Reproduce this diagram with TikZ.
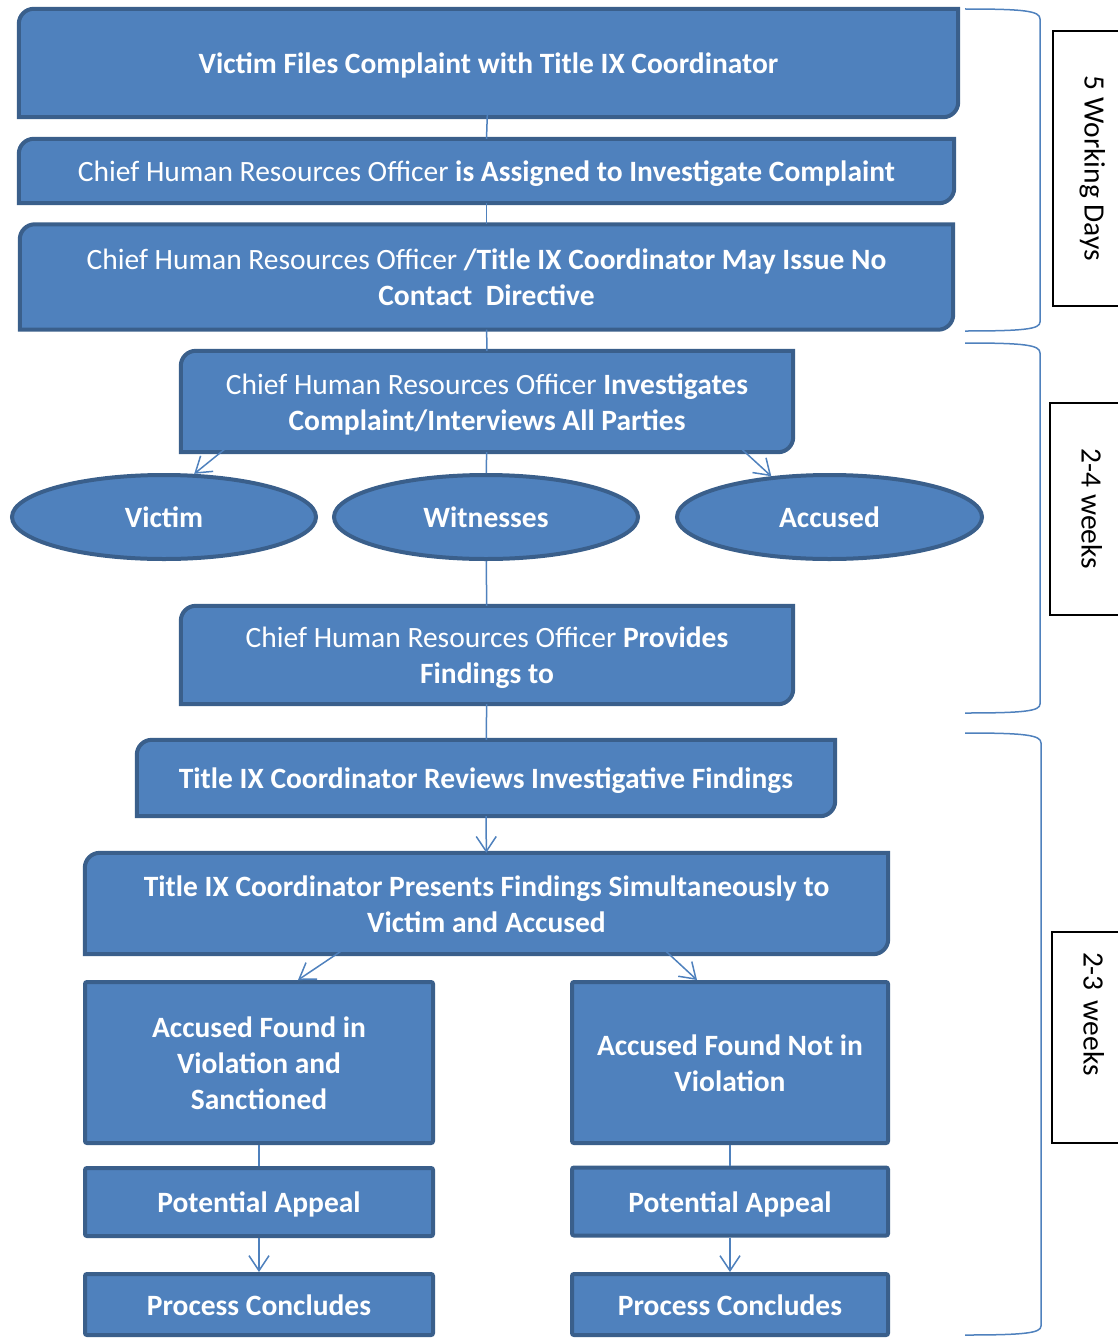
\documentclass[tikz,border=0pt]{standalone}
\usepackage{fontspec}
\setmainfont{Carlito}
\usetikzlibrary{arrows.meta,shapes.geometric,backgrounds}
\definecolor{boxfill}{HTML}{4F81BD}
\definecolor{boxline}{HTML}{3A5F8B}
% line box of one text line, as the word processor sets it
\newcommand{\wstrut}{\rule[-7.5pt]{0pt}{36pt}}
\tikzset{
  txt/.style={text=white, align=center, inner sep=0pt, font=\fontsize{29.5}{36}\selectfont\bfseries},
  boxshape/.style={fill=boxfill, draw=boxline, line width=4pt},
  plainbox/.style={txt, boxshape, rounded corners=2pt},
  oval/.style={txt, boxshape, ellipse},
  link/.style={draw=boxfill, line width=1.5pt},
  arr/.style={link, -{Straight Barb[length=15pt,width=20pt]}},
  brk/.style={draw=boxfill, line width=1.5pt},
  lbl/.style={draw=black, line width=1.2pt, rotate=-90, inner sep=0pt, text height=22pt, text depth=13pt, font=\fontsize{29.5}{36}\selectfont}
}
\begin{document}
\begin{tikzpicture}[x=1pt,y=-1pt]
\useasboundingbox (0,0) rectangle (1117,1338);

% main column
\node[txt, minimum width=939pt, minimum height=108pt] (b1) at (488.5,63) {\wstrut Victim Files Complaint with Title IX Coordinator};
\node[txt, minimum width=935pt, minimum height=64pt] (b2) at (486.5,171) {\wstrut{\mdseries Chief Human Resources Officer} is Assigned to Investigate Complaint};
\node[txt, minimum width=933pt, minimum height=105pt] (b3) at (486.5,277) {\wstrut{\mdseries Chief Human Resources Officer} /Title IX Coordinator May Issue No\\\wstrut Contact~ Directive};
\node[txt, minimum width=612pt, minimum height=101pt] (b4) at (487,401.5) {\wstrut{\mdseries Chief Human Resources Officer} Investigates\\\wstrut Complaint/Interviews All Parties};

\node[oval, minimum width=304pt, minimum height=84pt] (victim) at (164,517) {\wstrut Victim};
\node[oval, minimum width=304pt, minimum height=84pt] (witnesses) at (486,517) {\wstrut Witnesses};
\node[oval, minimum width=305pt, minimum height=84pt] (accused) at (829.5,517) {\wstrut Accused};

\node[txt, minimum width=612pt, minimum height=98pt] (b5) at (487,655) {\wstrut{\mdseries Chief Human Resources Officer} Provides\\\wstrut Findings to};
\node[txt, minimum width=698pt, minimum height=76pt] (b6) at (486,778) {\wstrut Title IX Coordinator Reviews Investigative Findings};
\node[txt, minimum width=803pt, minimum height=101pt] (b7) at (486.5,903.5) {\wstrut Title IX Coordinator Presents Findings Simultaneously to\\\wstrut Victim and Accused};

% outcomes
\node[plainbox, minimum width=348pt, minimum height=161pt] (l8) at (259,1062.5) {\wstrut Accused Found in\\\wstrut Violation and\\\wstrut Sanctioned};
\node[plainbox, minimum width=316pt, minimum height=161pt] (r8) at (730,1062.5) {\wstrut Accused Found Not in\\\wstrut Violation};
\node[plainbox, minimum width=348pt, minimum height=68pt] (l9) at (259,1202) {\wstrut Potential Appeal};
\node[plainbox, minimum width=316pt, minimum height=68pt] (r9) at (730,1201.5) {\wstrut Potential Appeal};
\node[plainbox, minimum width=348pt, minimum height=61pt] (l10) at (259,1304.5) {\wstrut Process Concludes};
\node[plainbox, minimum width=316pt, minimum height=61pt] (r10) at (730,1304.5) {\wstrut Process Concludes};

\begin{scope}[on background layer]
\foreach \n in {b1,b2,b3,b4,b5,b6,b7}
  \filldraw[boxshape] ([yshift=-15pt]\n.north west) arc[start angle=180,end angle=90,radius=15pt]
    -- (\n.north east) -- ([yshift=15pt]\n.south east) arc[start angle=0,end angle=-90,radius=15pt]
    -- (\n.south west) -- cycle;
\end{scope}

% connectors
\draw[link] ([yshift=-16pt]b1.center) -- (b2.north);
\draw[link] (b2) -- (b3);
\draw[link] (b3) -- (b4);
\draw[link] (b4) -- (witnesses);
\draw[arr] ([shift={(76,-29)}]b4.south west) -- (victim.55);
\draw[arr] ([shift={(-83,-32)}]b4.south east) -- (accused.145);
\draw[link] (witnesses) -- (b5);
\draw[link] (b5) -- (b6);
\draw[arr] (b6) -- (b7);
\draw[arr] ([shift={(280,-19)}]b7.south west) -- ([xshift=39pt]l8.north);
\draw[arr] ([shift={(-245,-24)}]b7.south east) -- ([xshift=-33pt]r8.north);
\draw[link] (l8) -- (l9);
\draw[link] (r8) -- (r9);
\draw[arr] (l9) -- (l10);
\draw[arr] (r9) -- (r10);

% time brackets
\draw[brk] (965,9) .. controls (1025,9) and (1040,11) .. (1040,19) -- (1040,322) .. controls (1040,329) and (1025,331) .. (965,331);
\draw[brk] (965,343) .. controls (1025,343) and (1040,345) .. (1040,353) -- (1040,704) .. controls (1040,711) and (1025,713) .. (965,713);
\draw[brk] (965,733) .. controls (1025,733) and (1041,735) .. (1041,743) -- (1041,1326) .. controls (1041,1333) and (1025,1335) .. (965,1335);

\node[lbl, minimum width=275pt, minimum height=72pt] (dA) at (1089,168.5) {5 Working Days};
\node[lbl, minimum width=212pt, minimum height=72pt] (dB) at (1086,509) {2-4 weeks};
\node[lbl, minimum width=211pt, minimum height=72pt, text width=171pt, inner xsep=20pt, align=left] (dC) at (1088,1037.5) {2-3 weeks};
\end{tikzpicture}
\end{document}
